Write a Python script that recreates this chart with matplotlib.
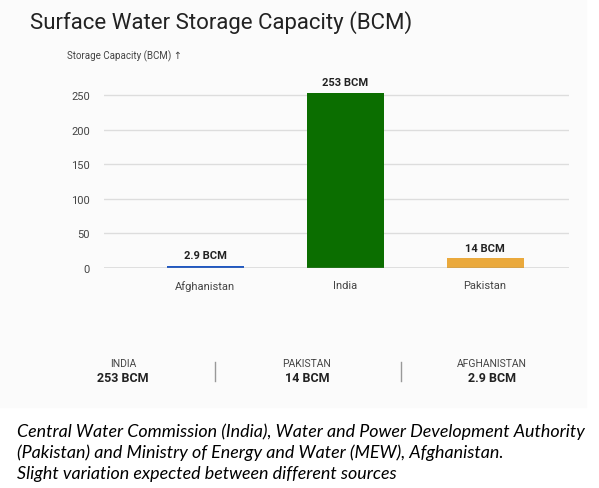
import matplotlib.pyplot as plt
from matplotlib.patches import Rectangle

# data
countries = ["Afghanistan", "India", "Pakistan"]
capacity = [2.9, 253, 14]
bar_labels = ["2.9 BCM", "253 BCM", "14 BCM"]
bar_colors = ["#1f58c4", "#0b6e00", "#eaa93c"]
yticks = [0, 50, 100, 150, 200, 250]

summary_names = ["INDIA", "PAKISTAN", "AFGHANISTAN"]
summary_values = ["253 BCM", "14 BCM", "2.9 BCM"]

W, H = 599, 489
fig = plt.figure(figsize=(W / 100, H / 100), dpi=100)
fig.patch.set_facecolor("white")
fig.patches.append(Rectangle((0, 1 - 408 / H), 586 / W, 408 / H,
                             transform=fig.transFigure, color="#fbfbfb", zorder=-5))

# axes: x from 104 to 569 px, y=0 at 269 px, y=250 at 96 px
px_per_unit = 173 / 250
top_px = 60
ax = fig.add_axes([104 / W, 1 - 269 / H, (569 - 104) / W, (269 - top_px) / H])
ax.set_facecolor("none")
ax.set_ylim(0, (269 - top_px) / px_per_unit)
ax.set_xlim(-0.725, 2.6)

x = range(len(countries))
bars = ax.bar(x, capacity, width=0.55, color=bar_colors, zorder=3)
for xi, v, lab in zip(x, capacity, bar_labels):
    ax.text(xi, v + 8, lab, ha="center", va="bottom", fontsize=8,
            fontweight="bold", family="Roboto", color="#222222")

ax.set_yticks(yticks)
ax.set_yticklabels([str(t) for t in yticks], family="Roboto", fontsize=8, color="#444444")
ax.set_xticks(list(x))
ax.set_xticklabels(countries, family="Roboto", fontsize=8, color="#444444")
ax.tick_params(length=0, pad=9)
ax.tick_params(axis="y", pad=10)
ax.grid(axis="y", color="#dddddd", linewidth=1, zorder=0)
for s in ax.spines.values():
    s.set_visible(False)
ax.axhline(0, color="#888888", linewidth=1, zorder=4)

fig.text(30 / W, 1 - 23 / H, "Surface Water Storage Capacity (BCM)", fontsize=16,
         family="Roboto", color="#222222", va="center")
fig.text(67 / W, 1 - 56 / H, "Storage Capacity (BCM) \u2191", fontsize=7,
         family=["Roboto", "DejaVu Sans"], color="#444444", va="center")

# summary row
centers = [123, 307, 492]
for cx, n, v in zip(centers, summary_names, summary_values):
    fig.text(cx / W, 1 - 364 / H, n, fontsize=7.5, family="Roboto", color="#444444",
             ha="center", va="center")
    fig.text(cx / W, 1 - 379 / H, v, fontsize=9, family="Roboto", fontweight="bold",
             color="#222222", ha="center", va="center")
for sx in [215, 401]:
    fig.add_artist(plt.Line2D([sx / W, sx / W], [1 - 363 / H, 1 - 382 / H],
                              color="#999999", linewidth=1))

caption = ("Central Water Commission (India), Water and Power Development Authority\n"
           "(Pakistan) and Ministry of Energy and Water (MEW), Afghanistan.\n"
           "Slight variation expected between different sources")
fig.text(17 / W, 1 - 423 / H, caption, fontsize=12.9, family="Lato", style="italic",
         color="black", va="top", linespacing=1.38)

fig.savefig("out.png", dpi=100)
